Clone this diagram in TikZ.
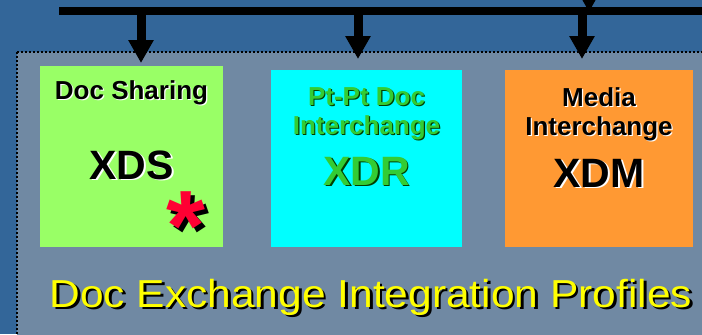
\documentclass[tikz,border=0pt]{standalone}
\usepackage{fontspec}
\usepackage{graphicx}
\usepackage{tikz}
\setmainfont{Liberation Sans}
\usetikzlibrary{arrows.meta}
\definecolor{slideblue}{HTML}{336699}
\definecolor{panelgray}{HTML}{7089A3}
\definecolor{xdsgreen}{HTML}{99FF66}
\definecolor{xdrcyan}{HTML}{00FFFF}
\definecolor{xdmorange}{HTML}{FF9933}
\definecolor{xdrtext}{HTML}{33CC33}
\definecolor{starred}{HTML}{FF0033}
\definecolor{titleyellow}{HTML}{FFFF00}
\newcommand{\dropsh}[4]{\rlap{\kern#3\raisebox{-#3}{\textcolor{#2}{#4}}}\textcolor{#1}{#4}}
\tikzstyle{profile}=[draw=none,inner sep=0pt,outer sep=0pt]
\tikzstyle{smalltxt}=[anchor=base,inner sep=0pt,font=\fontsize{13}{14.5}\selectfont\bfseries]
\tikzstyle{bigtxt}=[anchor=base,inner sep=0pt,font=\fontsize{20.5}{24}\selectfont\bfseries]
\tikzstyle{feed}=[-{Triangle[width=12pt,length=11.5pt]},line width=4.5pt]

\begin{document}
\begin{tikzpicture}[x=0.5pt,y=-0.5pt]
\useasboundingbox (0,0) rectangle (702,334);
\clip (0,0) rectangle (702,334);
\fill[slideblue] (0,0) rectangle (702,334);
% panel
\draw[fill=panelgray,line width=1pt,dash pattern=on 1pt off 1pt] (17,52) rectangle (720,350);
% profiles
\node[profile,fill=xdsgreen,minimum width=91.5pt,minimum height=90.5pt] (xds) at (131.5,156.5) {};
\node[profile,fill=xdrcyan,minimum width=95.5pt,minimum height=88.5pt] (xdr) at (366.5,158.5) {};
\node[profile,fill=xdmorange,minimum width=94pt,minimum height=88.5pt] (xdm) at (599,158.5) {};
% bus
\coordinate (busL) at (59,11);
\coordinate (busR) at (710,11);
\draw[line width=4pt] (busL) -- (busR);
\coordinate (upSrc) at (589,-40);
\coordinate (upEnd) at (589,12);
\draw[feed] (upSrc) -- (upEnd);
\coordinate (tapS) at (141,11);
\coordinate (tipS) at (141,63);
\coordinate (tapR) at (358,11);
\coordinate (tipR) at (358,59);
\coordinate (tapM) at (582,11);
\coordinate (tipM) at (582,59);
\draw[feed] (tapS) -- (tipS);
\draw[feed] (tapR) -- (tipR);
\draw[feed] (tapM) -- (tipM);
% texts
\node[smalltxt] (xdsTop) at (131.5,99) {\dropsh{black}{white}{0.6pt}{Doc Sharing}};
\node[bigtxt]   (xdsName) at (131.5,179) {\dropsh{black}{white}{0.9pt}{XDS}};
\node[anchor=base,inner sep=0pt,font=\fontsize{50}{50}\selectfont\bfseries] (xdsStar) at (186,260) {\smash{\dropsh{starred}{black}{2.2pt}{*}}};
\node[smalltxt] (xdrTop) at (366.5,105) {\dropsh{xdrtext}{black!75!green}{0.6pt}{Pt-Pt Doc}};
\node[smalltxt] (xdrMid) at (366.5,134) {\dropsh{xdrtext}{black!75!green}{0.6pt}{Interchange}};
\node[bigtxt]   (xdrName) at (366.5,185) {\dropsh{xdrtext}{black!75!green}{0.9pt}{XDR}};
\node[smalltxt] (xdmTop) at (599,106) {\dropsh{black}{white}{0.6pt}{Media}};
\node[smalltxt] (xdmMid) at (599,135) {\dropsh{black}{white}{0.6pt}{Interchange}};
\node[bigtxt]   (xdmName) at (599,187) {\dropsh{black}{white}{0.9pt}{XDM}};
% caption
\node[anchor=base west,inner sep=0pt,font=\fontsize{19.5}{22}\selectfont] (caption) at (49,307) {\scalebox{1.09}[1]{\dropsh{titleyellow}{black}{1.2pt}{Doc Exchange Integration Profiles}}};
\end{tikzpicture}
\end{document}
